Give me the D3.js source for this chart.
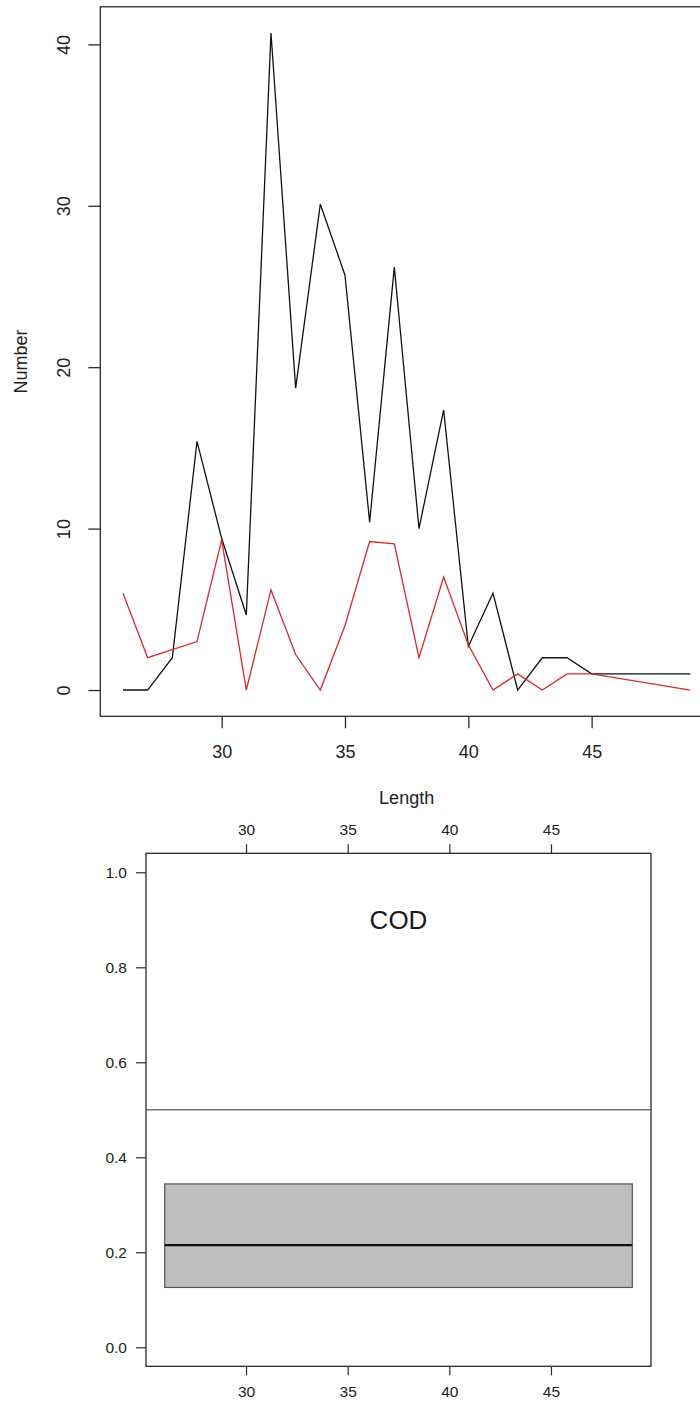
<!DOCTYPE html>
<html>
<head>
<meta charset="utf-8">
<script src="https://cdn.jsdelivr.net/npm/d3@7/dist/d3.min.js"></script>
<style>
  html, body { margin: 0; padding: 0; background: #fff; }
  svg { display: block; font-family: "Liberation Sans", Arial, sans-serif; }
</style>
</head>
<body>
<svg id="chart" width="700" height="1401"></svg>
<script>
// Length classes and catch numbers per class
const lengths = [26, 27, 28, 29, 30, 31, 32, 33, 34, 35, 36, 37, 38, 39, 40, 41, 42, 43, 44, 45, 49];
const totalNumbers = [0, 0, 2, 15.4, 9.4, 4.65, 40.7, 18.7, 30.1, 25.7, 10.4, 26.2, 10, 17.35, 2.7, 6, 0, 2, 2, 1, 1];
const subsetNumbers = [6, 2, 2.5, 3, 9.3, 0, 6.2, 2.2, 0, 4, 9.2, 9.05, 2, 7, 2.8, 0, 1, 0, 1, 1, 0];

const xTicks = [30, 35, 40, 45];
const yTicksTop = [0, 10, 20, 30, 40];
const yTicksBottom = [0.0, 0.2, 0.4, 0.6, 0.8, 1.0];

// Proportion band for the species panel
const speciesLabel = "COD";
const bandRange = [26, 49];
const bandLower = 0.126;
const bandMedian = 0.215;
const bandUpper = 0.344;
const referenceLevel = 0.5;

const svg = d3.select("#chart");
const ink = "#2b2b2b";

// 4% padded domains, as the base plotting system does
function padded(lo, hi) { const p = (hi - lo) * 0.04; return [lo - p, hi + p]; }
const xDom = padded(d3.min(lengths), d3.max(lengths));

// ---------- Upper panel: numbers by length ----------
const xUp = d3.scaleLinear().domain(xDom).range([100.3, 713]);
const yUp = d3.scaleLinear().domain(padded(0, d3.max(totalNumbers))).range([716.3, 6.8]);

const upper = svg.append("g");
upper.append("rect")
  .attr("x", xUp.range()[0]).attr("y", yUp.range()[1])
  .attr("width", xUp.range()[1] - xUp.range()[0])
  .attr("height", yUp.range()[0] - yUp.range()[1])
  .attr("fill", "none").attr("stroke", ink).attr("stroke-width", 1.3);

const line = d3.line().x(d => xUp(d[0])).y(d => yUp(d[1]));
upper.append("path")
  .datum(lengths.map((l, i) => [l, totalNumbers[i]]))
  .attr("d", line).attr("fill", "none").attr("stroke", "#111").attr("stroke-width", 1.3);
upper.append("path")
  .datum(lengths.map((l, i) => [l, subsetNumbers[i]]))
  .attr("d", line).attr("fill", "none").attr("stroke", "#d42a2a").attr("stroke-width", 1.3);

// bottom axis
const xAxisUp = upper.append("g").attr("transform", `translate(0,${yUp.range()[0]})`)
  .call(d3.axisBottom(xUp).tickValues(xTicks).tickSize(12).tickFormat(d3.format("d")));
xAxisUp.select(".domain").remove();
xAxisUp.selectAll("line").attr("stroke", ink).attr("stroke-width", 1.3);
xAxisUp.selectAll("text").attr("font-size", 18).attr("fill", "#222")
  .attr("dy", null).attr("y", 36).attr("dominant-baseline", "central");

// left axis with rotated labels
const yAxisUp = upper.append("g").attr("transform", `translate(${xUp.range()[0]},0)`)
  .call(d3.axisLeft(yUp).tickValues(yTicksTop).tickSize(12).tickFormat(d3.format("d")));
yAxisUp.select(".domain").remove();
yAxisUp.selectAll("line").attr("stroke", ink).attr("stroke-width", 1.3);
yAxisUp.selectAll("text").attr("font-size", 18).attr("fill", "#222")
  .attr("x", null).attr("dy", null)
  .attr("text-anchor", "middle").attr("dominant-baseline", "central")
  .attr("transform", "translate(-36,0) rotate(-90)");

upper.append("text").text("Length")
  .attr("x", (xUp.range()[0] + xUp.range()[1]) / 2).attr("y", 798)
  .attr("text-anchor", "middle").attr("dominant-baseline", "central")
  .attr("font-size", 18).attr("fill", "#222");
upper.append("text").text("Number")
  .attr("text-anchor", "middle").attr("dominant-baseline", "central")
  .attr("font-size", 18).attr("fill", "#222")
  .attr("transform", `translate(21,${(yUp.range()[0] + yUp.range()[1]) / 2}) rotate(-90)`);

// ---------- Lower panel: proportion band ----------
const xLo = d3.scaleLinear().domain(xDom).range([146, 651]);
const yLo = d3.scaleLinear().domain(padded(0, 1)).range([1366.3, 853.3]);

const lower = svg.append("g");

lower.append("rect")
  .attr("x", xLo(bandRange[0])).attr("y", yLo(bandUpper))
  .attr("width", xLo(bandRange[1]) - xLo(bandRange[0]))
  .attr("height", yLo(bandLower) - yLo(bandUpper))
  .attr("fill", "#bebebe").attr("stroke", "#555").attr("stroke-width", 1.2);
lower.append("line")
  .attr("x1", xLo(bandRange[0])).attr("x2", xLo(bandRange[1]))
  .attr("y1", yLo(bandMedian)).attr("y2", yLo(bandMedian))
  .attr("stroke", "#111").attr("stroke-width", 2.2);
lower.append("line")
  .attr("x1", xLo.range()[0]).attr("x2", xLo.range()[1])
  .attr("y1", yLo(referenceLevel)).attr("y2", yLo(referenceLevel))
  .attr("stroke", "#777").attr("stroke-width", 1.6);

lower.append("text").text(speciesLabel)
  .attr("x", xLo(d3.mean(bandRange))).attr("y", yLo(0.9))
  .attr("text-anchor", "middle").attr("dominant-baseline", "central")
  .attr("font-size", 26).attr("fill", "#1a1a1a");

lower.append("rect")
  .attr("x", xLo.range()[0]).attr("y", yLo.range()[1])
  .attr("width", xLo.range()[1] - xLo.range()[0])
  .attr("height", yLo.range()[0] - yLo.range()[1])
  .attr("fill", "none").attr("stroke", ink).attr("stroke-width", 1.3);

function styleAxis(g, fs) {
  g.select(".domain").remove();
  g.selectAll("line").attr("stroke", ink).attr("stroke-width", 1.2);
  g.selectAll("text").attr("font-size", fs).attr("fill", "#222").attr("dy", null)
    .attr("dominant-baseline", "central");
}

const xb = lower.append("g").attr("transform", `translate(0,${yLo.range()[0]})`)
  .call(d3.axisBottom(xLo).tickValues(xTicks).tickSize(9).tickFormat(d3.format("d")));
styleAxis(xb, 15.5);
xb.selectAll("text").attr("y", 25.5);

const xt = lower.append("g").attr("transform", `translate(0,${yLo.range()[1]})`)
  .call(d3.axisTop(xLo).tickValues(xTicks).tickSize(9).tickFormat(d3.format("d")));
styleAxis(xt, 15.5);
xt.selectAll("text").attr("y", -23.5);

const yb = lower.append("g").attr("transform", `translate(${xLo.range()[0]},0)`)
  .call(d3.axisLeft(yLo).tickValues(yTicksBottom).tickSize(10).tickFormat(d3.format(".1f")));
styleAxis(yb, 15.5);
yb.selectAll("text").attr("x", -19).attr("text-anchor", "end");
</script>
</body>
</html>
